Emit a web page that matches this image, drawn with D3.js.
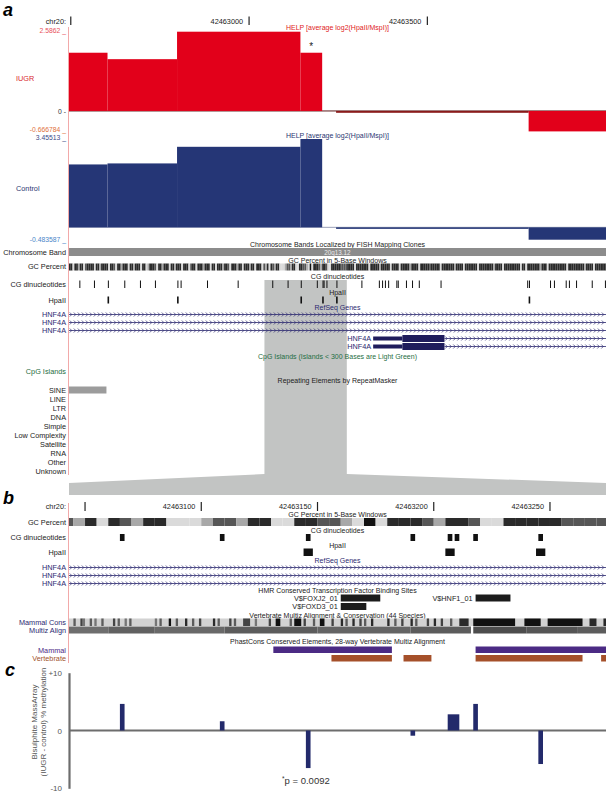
<!DOCTYPE html>
<html>
<head>
<meta charset="utf-8">
<script src="https://cdn.jsdelivr.net/npm/d3@7"></script>
<style>
  body { margin: 0; background: #fff; }
  svg { display: block; font-family: "Liberation Sans", Arial, sans-serif; }
</style>
</head>
<body>
<svg id="fig" width="609" height="797"></svg>
<script>
// ---- data (genomic coordinates on chr20) ----
const regionA = [42462495, 42464001]
const regionB = [42463043.1, 42463274.1]
const rulerA = [42462500, 42463000, 42463500]
const rulerB = [42463050, 42463100, 42463150, 42463200, 42463250]

// HELP fragments (HpaII-HpaII) and log2(HpaII/MspI)
const fragStart = [42462495, 42462603, 42462798, 42463144, 42463244, 42463784]
const fragEnd   = [42462603, 42462798, 42463144, 42463205, 42463784, 42464001]
const helpIUGR    = [1.90, 1.69, 2.5862, 1.90, -0.06, -0.666784]
const helpControl = [2.46, 2.50, 3.15, 3.45513, -0.06, -0.483587]

// GC percent per 5-base window, from 42462495 (1 = 20% ... 5 = 100%)
const gcWindows = (
  "4414424413" + "4444144244" + "4414431442" + "4441442444" + "1441244431" +
  "4424441442" + "4441444134" + "4144424441" + "4414442443" + "1444244144" + "424414441" +
  "32414324411123324411443321514443244311444443333" +
  "4444144444" + "4414444424" + "4444144441" + "4444424444" + "1444443444" +
  "4414444444" + "2444414444" + "4441444444" + "4424444144" + "4444444144" +
  "1444444424" + "4414444444" + "4441444444" + "4442444414" + "444444"
).split('').map(Number)

const cgSites = [42462524, 42462565, 42462604, 42462650, 42462694, 42462736, 42462799, 42462808,
  42462882, 42462968, 42463065, 42463108, 42463145, 42463190, 42463206, 42463209, 42463217,
  42463245, 42463315, 42463364, 42463373, 42463381, 42463390, 42463413, 42463417, 42463440,
  42463457, 42463476, 42463537, 42463780, 42463785, 42463844, 42463855, 42463888, 42463897,
  42463917, 42463961, 42463998]
const hpaSites = [42462603, 42462798, 42463144, 42463205, 42463244, 42463784]

// HNF4A transcripts: full-span rows, then two starting inside region a
const txStart   = [42455000, 42455000, 42455000, 42463348, 42463348]
const exonEnd   = [null, null, null, 42463548, 42463548]
const cdsStart  = [null, null, null, 42463430, 42463430]

const repeatClasses = ["SINE", "LINE", "LTR", "DNA", "Simple", "Low Complexity", "Satellite", "RNA", "Other", "Unknown"]
const sineStart = [42462470]
const sineEnd = [42462600]

const tfName  = ["V$FOXJ2_01", "V$FOXD3_01", "V$HNF1_01"]
const tfStart = [42463160, 42463160, 42463218]
const tfEnd   = [42463177, 42463171, 42463233]
const tfRow   = [0, 1, 0]

// conservation: [start, end, level 0-9]
const mammalCons = [[42463045,42463046,6],[42463048,42463049,7],[42463049,42463050,5],[42463052,42463053,6],
  [42463054,42463055,5],[42463057,42463058,6],[42463062,42463063,7],[42463064,42463065,6],[42463067,42463068,5],
  [42463069,42463070,6],[42463080,42463081,5],[42463082,42463083,6],[42463086,42463087,9],[42463089,42463090,6],
  [42463093,42463094,8],[42463096,42463097,6],[42463099,42463100,7],[42463105,42463106,8],[42463107,42463108,6],
  [42463112,42463113,7],[42463114,42463115,6],[42463118,42463121,7],[42463123,42463124,5],[42463129,42463130,7],
  [42463132,42463134,9],[42463138,42463139,6],[42463140,42463143,9],[42463144,42463145,7],[42463148,42463149,6],
  [42463151,42463153,9],[42463156,42463157,7],[42463160,42463161,8],[42463162,42463163,6],[42463165,42463166,8],
  [42463168,42463169,7],[42463170,42463171,6],[42463173,42463174,8],[42463180,42463181,8],[42463183,42463184,6],
  [42463186,42463187,7],[42463190,42463191,8],[42463192,42463193,6],[42463197,42463198,7],[42463200,42463201,8],
  [42463203,42463204,7],[42463207,42463208,6],[42463211,42463215,8],[42463217,42463235,9],[42463239,42463246,9],
  [42463249,42463264,9],[42463267,42463270,8],[42463273,42463275,8]]
const multizAlign = [[42463043,42463060,5.3],[42463060,42463080,5.8],[42463080,42463110,5.5],[42463110,42463150,6],
  [42463150,42463190,5.7],[42463190,42463216,6],[42463217,42463240,6.6],[42463240,42463262,6.3],[42463262,42463275,6]]

const phastMammal = [[42463131, 42463182], [42463218, 42463300]]
const phastVert   = [[42463156, 42463182], [42463187, 42463199], [42463218, 42463264], [42463272, 42463300]]

// bisulphite MassArray CpG units, (IUGR - control) % methylation
const massStart = [42463065, 42463108, 42463145, 42463190, 42463206, 42463217, 42463245]
const massEnd   = [42463067, 42463110, 42463147, 42463192, 42463211, 42463219, 42463247]
const methDiff  = [4.6, 1.6, -6.5, -0.9, 2.8, 4.6, -5.8]

// ---- drawing ----
const svg = d3.select('#fig')
const xa = d3.scaleLinear().domain(regionA).range([69, 606])
const xb = d3.scaleLinear().domain(regionB).range([69, 606])
const mid = 337.5

function txt(x, y, s, size, fill, anchor) {
  return svg.append('text').attr('x', x).attr('y', y).attr('font-size', size)
    .attr('fill', fill || '#222').attr('text-anchor', anchor || 'start').text(s)
}
function leftLabel(y, s, fill) { return txt(66, y + 2.5, s, 7.3, fill || '#222', 'end') }
function title(y, s, fill) { return txt(mid, y + 2.5, s, 7, fill || '#222', 'middle') }

function intron(x0, x1, y) {
  svg.append('line').attr('x1', x0).attr('x2', x1).attr('y1', y).attr('y2', y)
    .attr('stroke', '#2c2970').attr('stroke-width', 0.8)
  const pts = d3.range(x0 + 2, x1 - 1, 4)
  svg.append('path')
    .attr('d', pts.map(p => `M${p - 1.2},${y - 2}L${p + 0.8},${y}L${p - 1.2},${y + 2}`).join(''))
    .attr('fill', 'none').attr('stroke', '#2c2970').attr('stroke-width', 0.7)
}
function clipX(x, s) { return Math.max(s.range()[0], Math.min(s.range()[1], s(x))) }

const gcShade = d3.scaleLinear().domain([1, 2, 3, 4, 5])
  .range(['#dadada', '#a8a8a8', '#565656', '#2a2a2a', '#111'])
const consShade = d3.scaleLinear().domain([0, 9]).range(['#f2f2f2', '#111'])

// highlighted zoom region (behind tracks)
const hx0 = xa(regionB[0]), hx1 = xa(regionB[1])
svg.append('path')
  .attr('d', `M${hx0},280L${hx1},280L${hx1},474L606,483L606,495L69,495L69,483L${hx0},474Z`)
  .attr('fill', '#c2c4c3')

// panel letters
svg.append('text').attr('x', 3).attr('y', 16).attr('font-size', 18).attr('font-weight', 'bold')
  .attr('font-style', 'italic').text('a')
svg.append('text').attr('x', 3).attr('y', 504).attr('font-size', 18).attr('font-weight', 'bold')
  .attr('font-style', 'italic').text('b')
svg.append('text').attr('x', 5).attr('y', 676).attr('font-size', 18).attr('font-weight', 'bold')
  .attr('font-style', 'italic').text('c')

// pink left borders
svg.append('line').attr('x1', 68.5).attr('x2', 68.5).attr('y1', 27).attr('y2', 475)
  .attr('stroke', '#f2a9a9').attr('stroke-width', 1)
svg.append('line').attr('x1', 68.5).attr('x2', 68.5).attr('y1', 503).attr('y2', 663)
  .attr('stroke', '#f2a9a9').attr('stroke-width', 1)

// ---------- panel a ----------
txt(66, 24, 'chr20:', 7.3, '#222', 'end')
svg.selectAll('.rulA').data(rulerA).enter().append('line')
  .attr('x1', d => xa(d)).attr('x2', d => xa(d)).attr('y1', 16.5).attr('y2', 25)
  .attr('stroke', '#222').attr('stroke-width', 1.2)
svg.selectAll('.rulAt').data(rulerA.slice(1)).enter().append('text')
  .attr('x', d => xa(d) - 6).attr('y', 24).attr('font-size', 7.3).attr('fill', '#222')
  .attr('text-anchor', 'end').text(d => d)

function helpTrack(values, yScale, color, zeroColor, thinColor) {
  const y0 = yScale(0)
  svg.append('line').attr('x1', 69).attr('x2', 606).attr('y1', y0).attr('y2', y0)
    .attr('stroke', zeroColor).attr('stroke-width', 1)
  svg.selectAll(null).data(values).enter().append('rect')
    .attr('x', (d, i) => xa(fragStart[i]))
    .attr('width', (d, i) => clipX(fragEnd[i], xa) - xa(fragStart[i]))
    .attr('y', d => Math.min(yScale(d), y0))
    .attr('height', d => Math.max(1.5, Math.abs(yScale(d) - y0)))
    .attr('fill', d => Math.abs(d) < 0.1 ? thinColor : color)
}

const yIUGR = d3.scaleLinear().domain([-0.666784, 2.5862]).range([131.4, 31.7])
const yCtrl = d3.scaleLinear().domain([-0.483587, 3.45513]).range([239.7, 139])

title(27.5, 'HELP [average log2(HpaII/MspI)]', '#e01b24')
helpTrack(helpIUGR, yIUGR, '#e2001a', '#5a1a1a', '#8a1a1a')
txt(66, 33, '2.5862 _', 6.8, '#e8505a', 'end')
txt(16, 80.5, 'IUGR', 7.3, '#d9272e')
txt(66, 113.5, '0 -', 6.8, '#333', 'end')
txt(66, 131.5, '-0.666784 _', 6.8, '#e0703a', 'end')
// asterisk over the significant fragment
txt(xa((fragStart[3] + fragEnd[3]) / 2), 50, '*', 10, '#222', 'middle')

title(135.5, 'HELP [average log2(HpaII/MspI)]', '#2a3672')
helpTrack(helpControl, yCtrl, '#253676', '#9aa0b8', '#253676')
txt(66, 140, '3.45513 _', 6.8, '#3c4a88', 'end')
txt(16, 190.5, 'Control', 7.3, '#2a3672')
txt(66, 242, '-0.483587 _', 6.8, '#4a86c8', 'end')

// chromosome band
title(244.5, 'Chromosome Bands Localized by FISH Mapping Clones')
leftLabel(252, 'Chromosome Band')
svg.append('rect').attr('x', 69).attr('y', 248).attr('width', 537).attr('height', 8).attr('fill', '#8c8c8c')
txt(mid, 254.5, '20q13.12', 6.3, '#ececec', 'middle')

// GC percent a
title(260.5, 'GC Percent in 5-Base Windows')
leftLabel(266.5, 'GC Percent')
svg.selectAll(null).data(gcWindows).enter().append('rect')
  .attr('x', (d, i) => clipX(regionA[0] + 5 * i, xa))
  .attr('width', (d, i) => Math.max(0, clipX(regionA[0] + 5 * i + 5, xa) - clipX(regionA[0] + 5 * i, xa)))
  .attr('y', 263.5).attr('height', 7).attr('fill', d => gcShade(d))

// CG dinucleotides a
title(276.5, 'CG dinucleotides')
leftLabel(284.5, 'CG dinucleotides')
svg.selectAll(null).data(cgSites).enter().append('rect')
  .attr('x', d => xa(d)).attr('width', d => Math.max(1, xa(d + 2) - xa(d)))
  .attr('y', 280.5).attr('height', 7.5).attr('fill', '#111')

// HpaII a
title(292, 'HpaII')
leftLabel(300, 'HpaII')
svg.selectAll(null).data(hpaSites).enter().append('rect')
  .attr('x', d => xa(d)).attr('width', d => Math.max(1.6, xa(d + 4) - xa(d)))
  .attr('y', 296.5).attr('height', 7).attr('fill', '#111')

// RefSeq genes a
title(307.5, 'RefSeq Genes', '#2c2970')
const geneRowsA = [314.5, 322.5, 330.5, 338.5, 346.5]
txStart.forEach((s, i) => {
  const y = geneRowsA[i]
  if (exonEnd[i] === null) {
    leftLabel(y, 'HNF4A', '#2c2970')
    intron(69, 606, y)
  } else {
    const xs = xa(s)
    txt(xs - 2, y + 2.5, 'HNF4A', 7.3, '#2c2970', 'end')
    svg.append('rect').attr('x', xs).attr('y', y - 2).attr('width', xa(cdsStart[i]) - xs).attr('height', 4).attr('fill', '#1f1c5c')
    svg.append('rect').attr('x', xa(cdsStart[i])).attr('y', y - 3.5).attr('width', xa(exonEnd[i]) - xa(cdsStart[i])).attr('height', 7).attr('fill', '#1f1c5c')
    intron(xa(exonEnd[i]), 606, y)
  }
})

// CpG islands
title(356.5, 'CpG Islands (Islands < 300 Bases are Light Green)', '#1f6e43')
leftLabel(371, 'CpG Islands', '#1f6e43')

// RepeatMasker
title(380.5, 'Repeating Elements by RepeatMasker')
const repY = d3.scalePoint().domain(repeatClasses).range([390, 471])
repeatClasses.forEach(c => leftLabel(repY(c), c))
sineStart.forEach((s, i) => {
  svg.append('rect').attr('x', clipX(s, xa)).attr('y', repY('SINE') - 3.5)
    .attr('width', xa(sineEnd[i]) - clipX(s, xa)).attr('height', 7).attr('fill', '#9c9c9c')
})

// ---------- panel b ----------
txt(66, 509, 'chr20:', 7.3, '#222', 'end')
svg.selectAll('.rulB').data(rulerB).enter().append('line')
  .attr('x1', d => xb(d)).attr('x2', d => xb(d)).attr('y1', 502).attr('y2', 511)
  .attr('stroke', '#222').attr('stroke-width', 1.2)
svg.selectAll('.rulBt').data(rulerB.slice(1)).enter().append('text')
  .attr('x', d => xb(d) - 6).attr('y', 509).attr('font-size', 7.3).attr('fill', '#222')
  .attr('text-anchor', 'end').text(d => d)

title(514.5, 'GC Percent in 5-Base Windows')
leftLabel(522, 'GC Percent')
const gcB = gcWindows.map((d, i) => ({ s: regionA[0] + 5 * i, v: d }))
  .filter(w => w.s + 5 > regionB[0] && w.s < regionB[1])
svg.selectAll(null).data(gcB).enter().append('rect')
  .attr('x', d => clipX(d.s, xb)).attr('width', d => clipX(d.s + 5, xb) - clipX(d.s, xb))
  .attr('y', 518).attr('height', 8).attr('fill', d => gcShade(d.v))

title(530.5, 'CG dinucleotides')
leftLabel(537.5, 'CG dinucleotides')
svg.selectAll(null).data(cgSites.filter(d => d > regionB[0] && d < regionB[1])).enter().append('rect')
  .attr('x', d => xb(d)).attr('width', d => xb(d + 2) - xb(d))
  .attr('y', 534).attr('height', 7).attr('fill', '#111')

title(545.5, 'HpaII')
leftLabel(552.5, 'HpaII')
svg.selectAll(null).data(hpaSites.filter(d => d > regionB[0] && d < regionB[1])).enter().append('rect')
  .attr('x', d => xb(d)).attr('width', d => xb(d + 4) - xb(d))
  .attr('y', 548.5).attr('height', 7.5).attr('fill', '#111')

title(560.5, 'RefSeq Genes', '#2c2970')
const geneRowsB = [567.5, 575.5, 583.5]
txStart.filter(s => s < regionB[0]).forEach((s, i) => {
  leftLabel(geneRowsB[i], 'HNF4A', '#2c2970')
  intron(69, 606, geneRowsB[i])
})

title(590.5, 'HMR Conserved Transcription Factor Binding Sites')
const tfRows = [598, 606.5]
tfName.forEach((n, i) => {
  const y = tfRows[tfRow[i]]
  svg.append('rect').attr('x', xb(tfStart[i])).attr('y', y - 3.5)
    .attr('width', xb(tfEnd[i]) - xb(tfStart[i])).attr('height', 7).attr('fill', '#1c1c1c')
  txt(xb(tfStart[i]) - 3, y + 2.5, n, 7.3, '#222', 'end')
})

title(615, 'Vertebrate Multiz Alignment & Conservation (44 Species)')
leftLabel(622.5, 'Mammal Cons', '#2c2970')
leftLabel(630.5, 'Multiz Align', '#2c2970')
svg.append('rect').attr('x', 69).attr('y', 618.5).attr('width', 537).attr('height', 7.5).attr('fill', consShade(1.3))
svg.selectAll(null).data(mammalCons).enter().append('rect')
  .attr('x', d => clipX(d[0], xb)).attr('width', d => clipX(d[1], xb) - clipX(d[0], xb))
  .attr('y', 618.5).attr('height', 7.5).attr('fill', d => consShade(d[2]))
svg.selectAll(null).data(multizAlign).enter().append('rect')
  .attr('x', d => clipX(d[0], xb)).attr('width', d => clipX(d[1], xb) - clipX(d[0], xb))
  .attr('y', 626.5).attr('height', 7).attr('fill', d => consShade(d[2]))

title(641, 'PhastCons Conserved Elements, 28-way Vertebrate Multiz Alignment')
leftLabel(650, 'Mammal', '#4b2a84')
leftLabel(658.5, 'Vertebrate', '#a0522d')
svg.selectAll(null).data(phastMammal).enter().append('rect')
  .attr('x', d => clipX(d[0], xb)).attr('width', d => clipX(d[1], xb) - clipX(d[0], xb))
  .attr('y', 646.5).attr('height', 6.5).attr('fill', '#4b2a84')
svg.selectAll(null).data(phastVert).enter().append('rect')
  .attr('x', d => clipX(d[0], xb)).attr('width', d => clipX(d[1], xb) - clipX(d[0], xb))
  .attr('y', 655).attr('height', 6.5).attr('fill', '#a5502a')

// ---------- panel c ----------
const yc = d3.scaleLinear().domain([-10, 10]).range([788.3, 672.7])
const axis = svg.append('g').attr('transform', 'translate(69,0)')
  .call(d3.axisLeft(yc).tickValues([-10, 0, 10]).tickSize(0).tickPadding(7)
    .tickFormat(d => d > 0 ? '+' + d : d))
axis.select('.domain').attr('stroke', '#6d6d6d').attr('stroke-width', 2.2)
axis.selectAll('text').attr('font-size', 8).attr('fill', '#555')
  .attr('font-family', '"Liberation Sans", Arial, sans-serif')

svg.append('line').attr('x1', 69).attr('x2', 606).attr('y1', yc(0)).attr('y2', yc(0))
  .attr('stroke', '#6d6d6d').attr('stroke-width', 2.2)

svg.selectAll(null).data(methDiff).enter().append('rect')
  .attr('x', (d, i) => xb(massStart[i]))
  .attr('width', (d, i) => xb(massEnd[i]) - xb(massStart[i]))
  .attr('y', d => Math.min(yc(d), yc(0)))
  .attr('height', d => Math.abs(yc(d) - yc(0)))
  .attr('fill', '#232a6b')

const yt = svg.append('text').attr('transform', 'translate(37,722) rotate(-90)')
  .attr('text-anchor', 'middle').attr('font-size', 8).attr('fill', '#555')
yt.append('tspan').attr('x', 0).attr('dy', 0).text('Bisulphite MassArray')
yt.append('tspan').attr('x', 0).attr('dy', 9).text('(IUGR - control) % methylation')

const pt = svg.append('text').attr('x', xb(massStart[2]) + 0).attr('y', 784)
  .attr('text-anchor', 'middle').attr('font-size', 9.5).attr('fill', '#333')
pt.append('tspan').attr('font-size', 6.5).attr('dy', -3).text('*')
pt.append('tspan').attr('dy', 3).text('p = 0.0092')
</script>
</body>
</html>
